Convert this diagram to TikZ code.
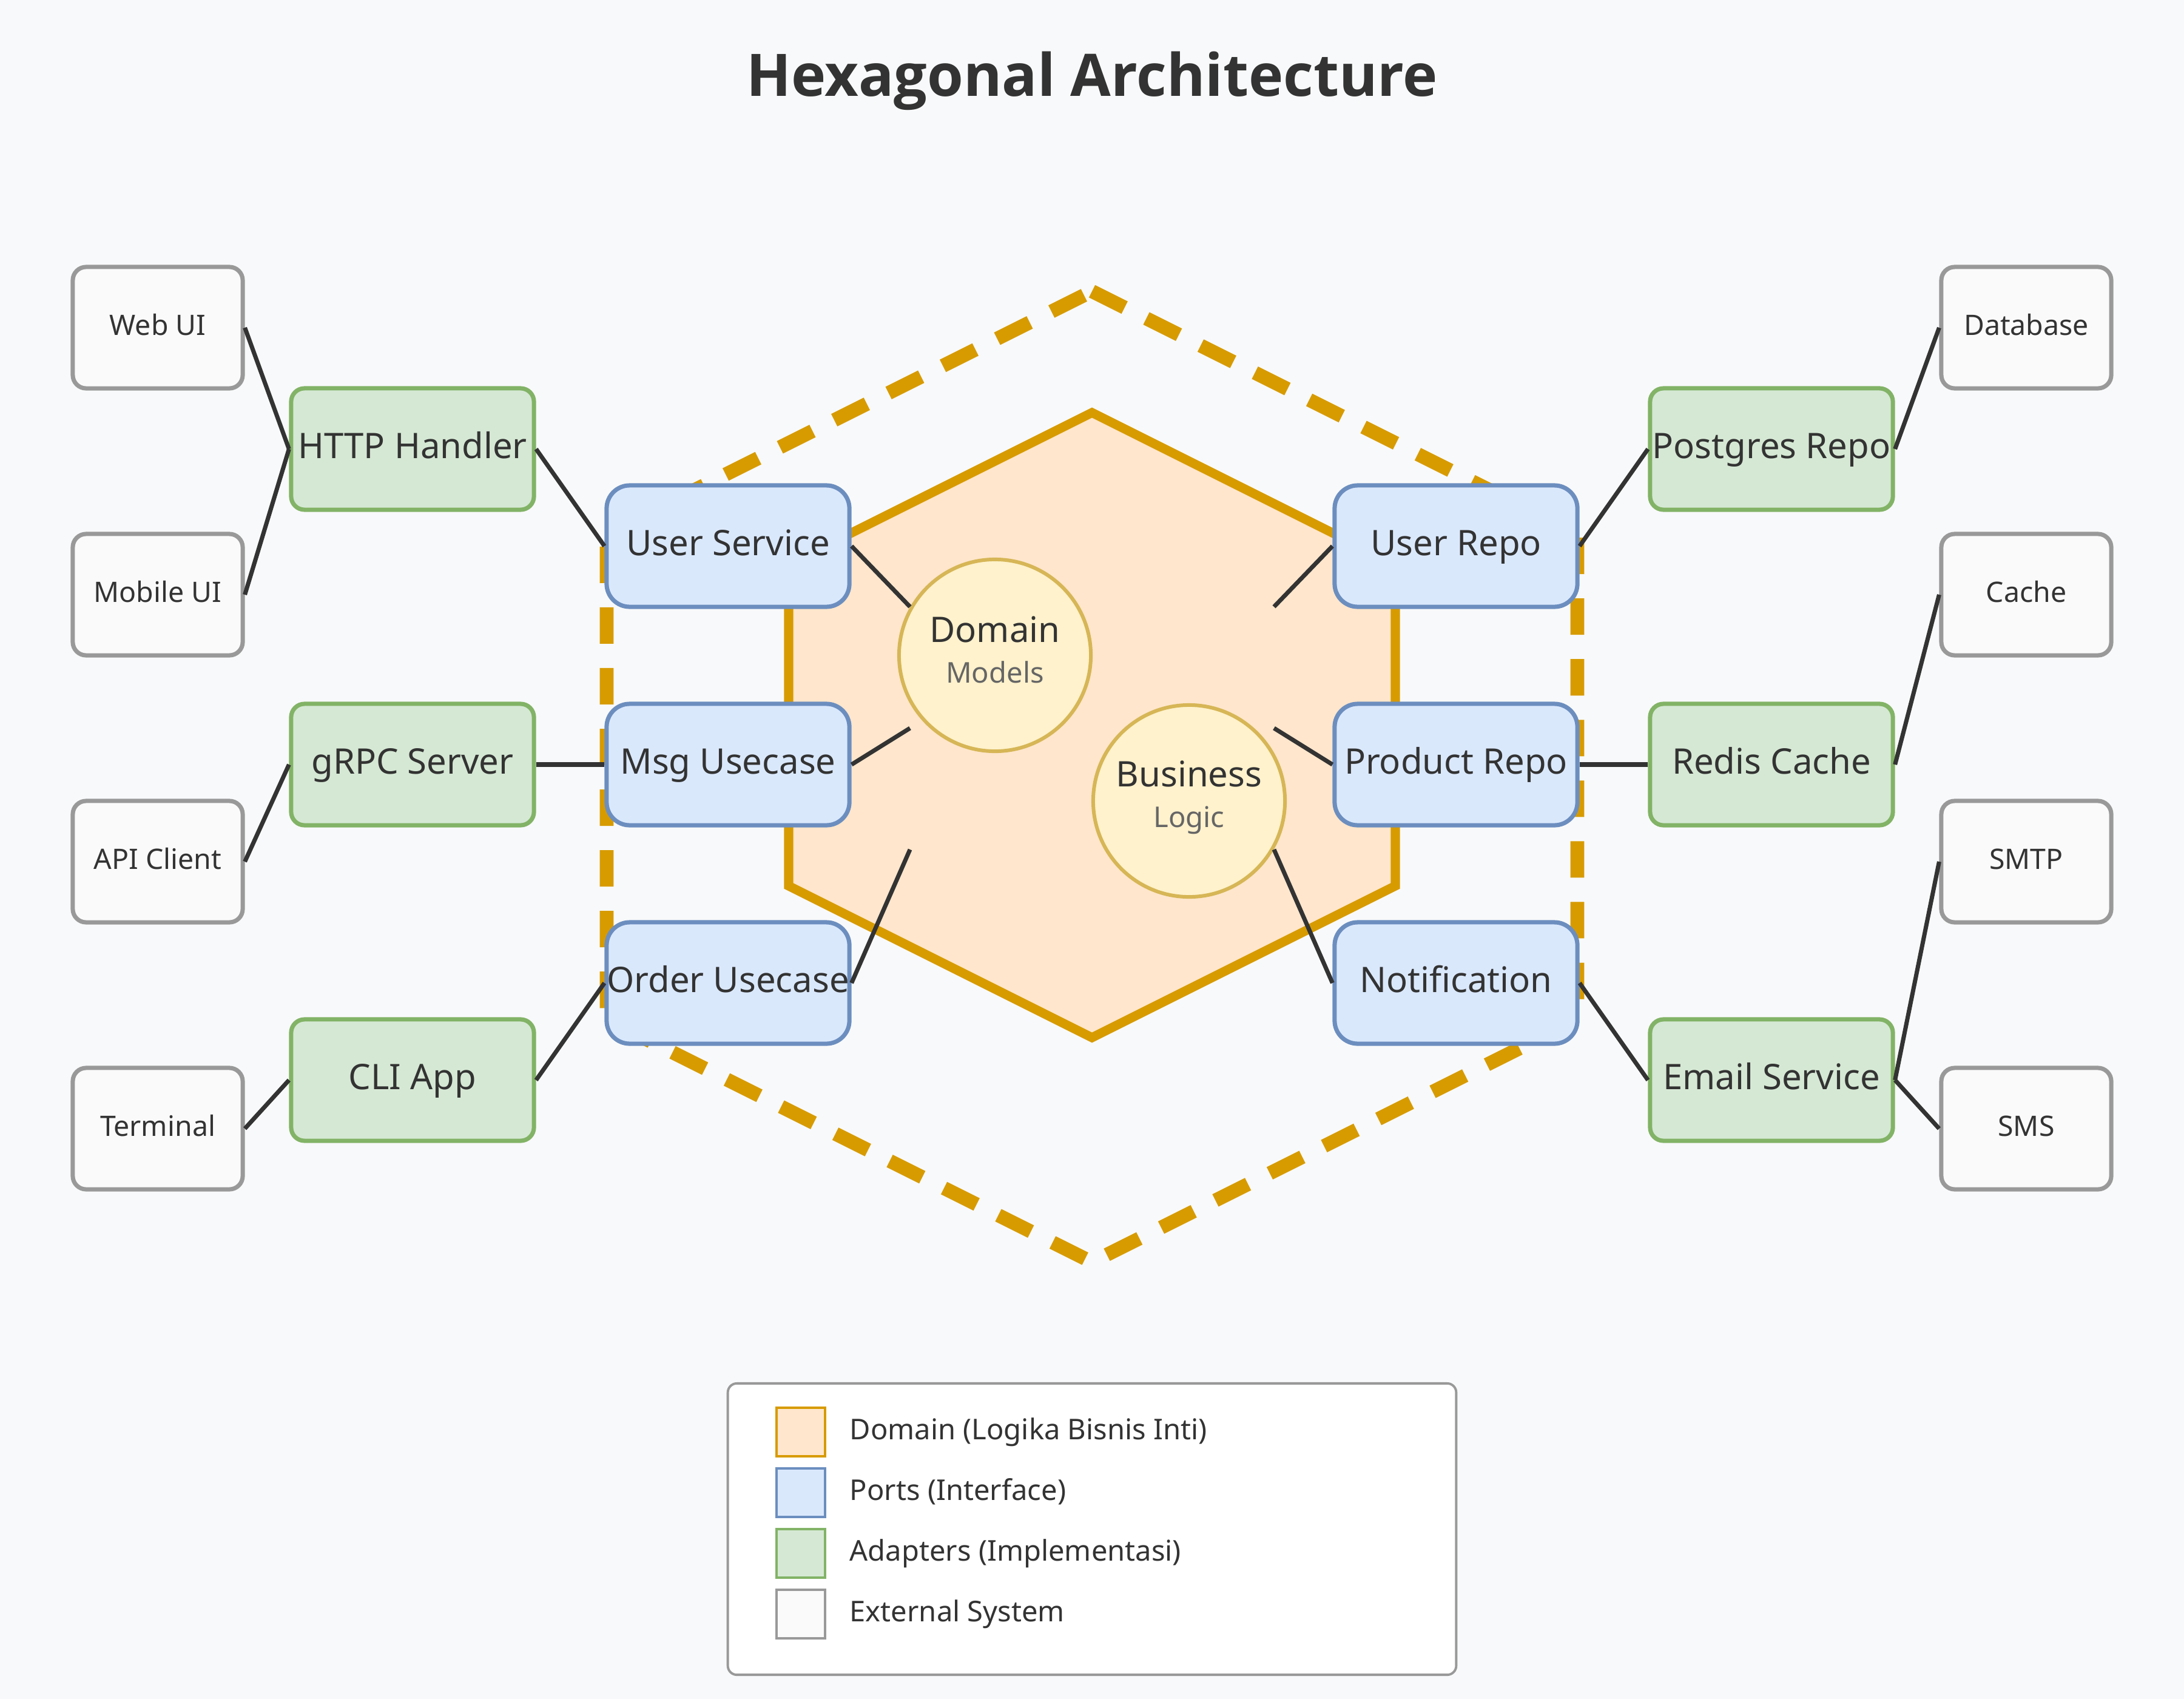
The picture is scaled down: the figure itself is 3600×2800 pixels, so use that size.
\documentclass[tikz,border=0pt]{standalone}
\usepackage{fontspec}
\setmainfont{Noto Sans}
\newfontfamily\titlefont{Open Sans}
\usepackage{xcolor}
\usepackage{tikz}
\definecolor{bgcol}{HTML}{F8F9FA}
\definecolor{ink}{HTML}{333333}
\definecolor{coreorange}{HTML}{D79B00}
\definecolor{corefill}{HTML}{FFE6CC}
\definecolor{portblue}{HTML}{6C8EBF}
\definecolor{portfill}{HTML}{DAE8FC}
\definecolor{adaptgreen}{HTML}{82B366}
\definecolor{adaptfill}{HTML}{D5E8D4}
\definecolor{extgray}{HTML}{999999}
\definecolor{extfill}{HTML}{FAFAFA}
\definecolor{modelgold}{HTML}{D6B656}
\definecolor{modelfill}{HTML}{FFF2CC}
\definecolor{subgray}{HTML}{666666}

\tikzset{
  extbox/.style={draw=extgray, fill=extfill, line width=2pt, rounded corners=0.22cm,
    minimum width=2.8cm, minimum height=2cm, inner xsep=0pt, text=ink,
    text height=10.6pt, text depth=3.4pt, font=\fontsize{13.2}{16}\selectfont},
  adapter/.style={draw=adaptgreen, fill=adaptfill, line width=2pt, rounded corners=0.22cm,
    minimum width=4cm, minimum height=2cm, inner xsep=0pt, text=ink,
    text height=13.2pt, text depth=4.3pt, font=\fontsize{16.5}{20}\selectfont},
  port/.style={adapter, draw=portblue, fill=portfill, rounded corners=0.38cm},
  model/.style={circle, draw=modelgold, fill=modelfill, line width=1.7pt,
    minimum size=3.16cm, inner sep=0pt},
  link/.style={draw=ink, line width=2pt},
  swatch/.style={line width=0.9pt, minimum size=0.8cm, inner sep=0pt},
  legtext/.style={anchor=west, inner sep=0pt, text=ink, text height=10.7pt, text depth=3.5pt,
    font=\fontsize{13.4}{16}\selectfont},
}

\begin{document}
\begin{tikzpicture}[x=0.01cm, y=-0.01cm]
  % canvas 3600 x 2800, y grows downwards
  \fill[bgcol] (0,0) rectangle (3600,2800);
  \useasboundingbox (0,0) rectangle (3600,2800);

  \node[anchor=base, text=ink, font=\titlefont\bfseries\fontsize{27.5}{32}\selectfont] (title) at (1800,159) {Hexagonal Architecture};

  % outer boundary (dashed) and domain core
  \draw[coreorange, line width=6.5pt, dash pattern=on 0.6cm off 0.4cm]
    (1800,480) -- (2600,880) -- (2600,1680) -- (1800,2080) -- (1000,1680) -- (1000,880) -- cycle;
  \draw[coreorange, fill=corefill, line width=4.3pt]
    (1800,680) -- (2300,930) -- (2300,1460) -- (1800,1710) -- (1300,1460) -- (1300,930) -- cycle;

  % domain models
  \node[model] (dom) at (1640,1080) {};
  \node[model] (biz) at (1960,1320) {};
  \node[anchor=base, text=ink, font=\fontsize{16.5}{20}\selectfont] (domtxt) at ([yshift=0.21cm]dom.center) {Domain};
  \node[anchor=base, text=subgray, font=\fontsize{13.4}{16}\selectfont] (domsub) at ([yshift=-0.45cm]dom.center) {Models};
  \node[anchor=base, text=ink, font=\fontsize{16.5}{20}\selectfont] (biztxt) at ([yshift=0.24cm]biz.center) {Business};
  \node[anchor=base, text=subgray, font=\fontsize{13.4}{16}\selectfont] (bizsub) at ([yshift=-0.43cm]biz.center) {Logic};

  % free ends inside the core
  \foreach \i/\y in {1/1000,2/1200,3/1400} {
    \coordinate (inL\i) at (1500,\y);
    \coordinate (inR\i) at (2100,\y);
  }

  % external systems
  \foreach \name/\y/\txt in {web/540/Web UI, mobile/980/Mobile UI, api/1420/API Client, term/1860/Terminal}
    \node[extbox] (\name) at (260,\y) {\txt};
  \foreach \name/\y/\txt in {db/540/Database, cache/980/Cache, smtp/1420/SMTP, sms/1860/SMS}
    \node[extbox] (\name) at (3340,\y) {\txt};

  % adapters
  \foreach \name/\y/\txt in {http/740/HTTP Handler, grpc/1260/gRPC Server, cli/1780/CLI App}
    \node[adapter] (\name) at (680,\y) {\txt};
  \foreach \name/\y/\txt in {pg/740/Postgres Repo, redis/1260/Redis Cache, email/1780/Email Service}
    \node[adapter] (\name) at (2920,\y) {\txt};

  % ports
  \foreach \name/\y/\txt in {usvc/900/User Service, msg/1260/Msg Usecase, order/1620/Order Usecase}
    \node[port] (\name) at (1200,\y) {\txt};
  \foreach \name/\y/\txt in {urepo/900/User Repo, prepo/1260/Product Repo, notif/1620/Notification}
    \node[port] (\name) at (2400,\y) {\txt};

  % connectors: external -> adapter -> port -> core
  \foreach \a/\b in {web/http, mobile/http, api/grpc, term/cli, http/usvc, grpc/msg, cli/order}
    \draw[link] (\a.east) -- (\b.west);
  \foreach \a/\b in {db/pg, cache/redis, smtp/email, sms/email, pg/urepo, redis/prepo, email/notif}
    \draw[link] (\a.west) -- (\b.east);
  \foreach \p/\i in {usvc/1, msg/2, order/3}
    \draw[link] (\p.east) -- (inL\i);
  \foreach \p/\i in {urepo/1, prepo/2, notif/3}
    \draw[link] (\p.west) -- (inR\i);

  % legend
  \node[draw=extgray, fill=white, line width=1.1pt, rounded corners=0.15cm,
    minimum width=12cm, minimum height=4.8cm, inner sep=0pt] (legend) at (1800,2520) {};
  \foreach \k/\y/\dc/\fc/\txt in {dm/2360/coreorange/corefill/Domain (Logika Bisnis Inti),
      pt/2460/portblue/portfill/Ports (Interface),
      ad/2560/adaptgreen/adaptfill/Adapters (Implementasi),
      ex/2660/extgray/extfill/External System} {
    \node[swatch, draw=\dc, fill=\fc] (sw\k) at (1320,\y) {};
    \node[legtext] (lt\k) at (1400,\y) {\txt};
  }
\end{tikzpicture}
\end{document}
